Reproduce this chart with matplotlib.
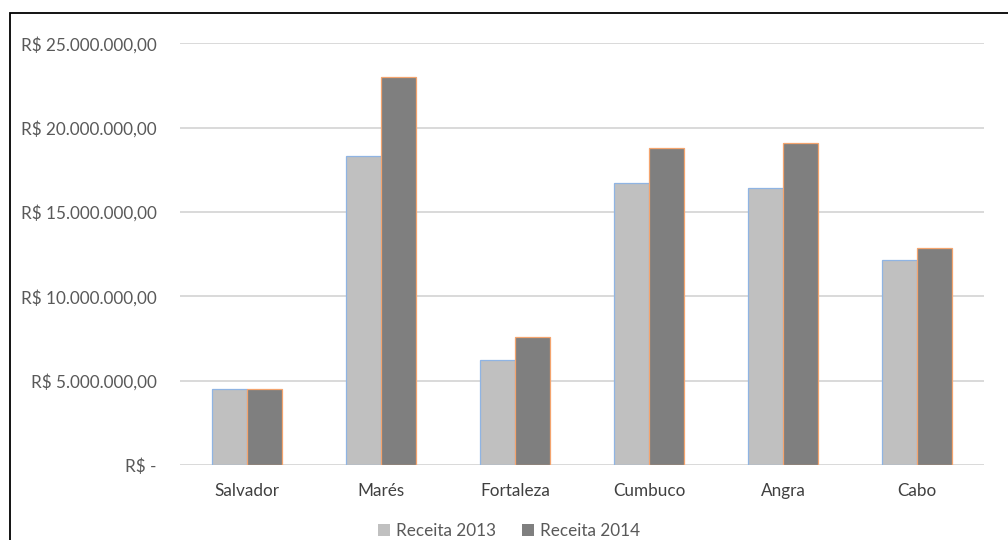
import matplotlib.pyplot as plt
import matplotlib.ticker as mticker
from matplotlib.patches import Rectangle, Patch
import numpy as np

# receita por unidade
unidades = ['Salvador', 'Marés', 'Fortaleza', 'Cumbuco', 'Angra', 'Cabo']
receita_2013 = [4500000, 18300000, 6220000, 16720000, 16390000, 12140000]
receita_2014 = [4480000, 22970000, 7570000, 18800000, 19090000, 12840000]

plt.rcParams['font.family'] = ['Lato', 'DejaVu Sans']

def fmt_reais(v, pos):
	if v == 0:
		return 'R$ -'
	s = '{:,.2f}'.format(v)
	s = s.replace(',', 'X').replace('.', ',').replace('X', '.')
	return 'R$ ' + s

fig = plt.figure(figsize=(10.08, 5.4), dpi=100)
ax = fig.add_axes([0.1786, 0.139, 0.7976, 0.781])

x = np.arange(len(unidades))
w = 0.259
ax.bar(x - w/2, receita_2013, width=w, color='#c0c0c0', edgecolor='#8fb4e3',
	linewidth=0.9, zorder=3)
ax.bar(x + w/2, receita_2014, width=w, color='#7f7f7f', edgecolor='#f4a46e',
	linewidth=0.9, zorder=3)

ax.set_xlim(-0.5, len(unidades) - 0.5)
ax.set_ylim(0, 25000000)
ax.yaxis.set_major_locator(mticker.MultipleLocator(5000000))
ax.yaxis.set_major_formatter(mticker.FuncFormatter(fmt_reais))
ax.grid(axis='y', color='#d9d9d9', linewidth=1.4, zorder=0)
for s in ax.spines.values():
	s.set_visible(False)
ax.tick_params(axis='y', length=0, pad=17, labelsize=12.3, labelcolor='#595959')
ax.tick_params(axis='x', length=0, pad=13, labelsize=12.3, labelcolor='#404040')
ax.set_xticks(x)
ax.set_xticklabels(unidades)

handles = [Patch(facecolor='#c0c0c0', label='Receita 2013'),
	Patch(facecolor='#7f7f7f', label='Receita 2014')]
fig.legend(handles=handles, loc='center', bbox_to_anchor=(0.505, 0.017), ncol=2,
	frameon=False, fontsize=12.3, handlelength=0.7, handleheight=0.7,
	handletextpad=0.35, columnspacing=1.5, labelcolor='#595959')

# moldura
fig.patches.append(Rectangle((9.5/1008, -0.1), 1.2, 1 - 12.5/540 + 0.1,
	transform=fig.transFigure, fill=False, edgecolor='black', linewidth=1.3))

plt.savefig('out.png', dpi=100)
